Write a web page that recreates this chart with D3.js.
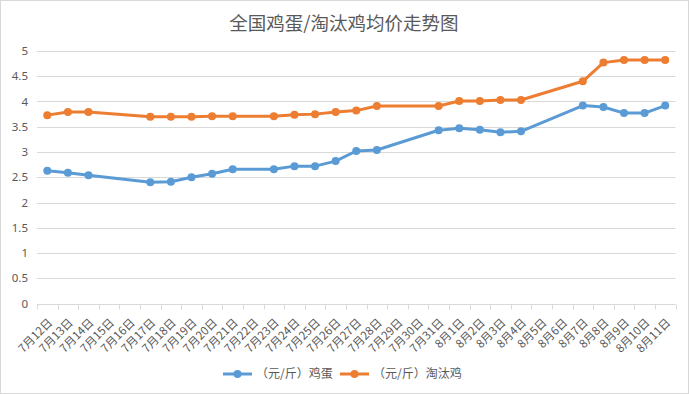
<!DOCTYPE html>
<html>
<head>
<meta charset="utf-8">
<script src="https://cdn.jsdelivr.net/npm/d3@7"></script>
<style>
  body { margin: 0; background: #fff; }
  svg { font-family: "Noto Sans CJK SC", "Noto Sans", sans-serif; }
</style>
</head>
<body>
<div id="chart"></div>
<script>
// categories: every day from 7/12 to 8/11
let dates = [
    "7月12日", "7月13日", "7月14日", "7月15日", "7月16日", "7月17日", "7月18日",
    "7月19日", "7月20日", "7月21日", "7月22日", "7月23日", "7月24日", "7月25日",
    "7月26日", "7月27日", "7月28日", "7月29日", "7月30日", "7月31日", "8月1日",
    "8月2日", "8月3日", "8月4日", "8月5日", "8月6日", "8月7日", "8月8日",
    "8月9日", "8月10日", "8月11日"
]

// days that actually have a quote
let quoteDates = [
    "7月12日", "7月13日", "7月14日", "7月17日", "7月18日", "7月19日", "7月20日",
    "7月21日", "7月23日", "7月24日", "7月25日", "7月26日", "7月27日", "7月28日",
    "7月31日", "8月1日", "8月2日", "8月3日", "8月4日", "8月7日", "8月8日",
    "8月9日", "8月10日", "8月11日"
]

let eggPrice = [
    2.63, 2.59, 2.54, 2.40, 2.41, 2.50, 2.57, 2.66, 2.66, 2.72, 2.72, 2.82,
    3.02, 3.04, 3.43, 3.47, 3.44, 3.39, 3.41, 3.92, 3.89, 3.77, 3.77, 3.92
]

let henPrice = [
    3.73, 3.79, 3.79, 3.70, 3.70, 3.70, 3.71, 3.71, 3.71, 3.74, 3.75, 3.79,
    3.82, 3.91, 3.91, 4.01, 4.01, 4.03, 4.03, 4.40, 4.77, 4.82, 4.82, 4.82
]

let yTicks = [0, 0.5, 1, 1.5, 2, 2.5, 3, 3.5, 4, 4.5, 5]

let series = [
    { name: "（元/斤）鸡蛋", values: eggPrice, color: "#5B9BD5" },
    { name: "（元/斤）淘汰鸡", values: henPrice, color: "#ED7D31" }
]

let width = 690
let height = 394
let margins = { top: 51, right: 15, bottom: 91, left: 37 }
let textColor = "#595959"
let gridColor = "#D9D9D9"

let svg = d3.select("#chart").append("svg")
    .attr("width", width)
    .attr("height", height)

// outer chart border
svg.append("rect")
    .attr("x", 0.5).attr("y", 0.5)
    .attr("width", width - 2).attr("height", height - 1)
    .attr("fill", "#fff")
    .attr("stroke", gridColor)

svg.append("text")
    .attr("x", 344)
    .attr("y", 30)
    .attr("text-anchor", "middle")
    .attr("fill", textColor)
    .style("font-size", "18.5px")
    .text("全国鸡蛋/淘汰鸡均价走势图")

let plotW = 675.5 - margins.left
let plotH = 303.5 - margins.top

let g = svg.append("g")
    .attr("transform", `translate(${margins.left}, ${margins.top})`)

let xScale = d3.scaleBand()
    .domain(dates)
    .range([0, plotW])

let yScale = d3.scaleLinear()
    .domain([0, 5])
    .range([plotH, 0])

// horizontal gridlines
g.append("g")
    .selectAll("line")
    .data(yTicks.filter(d => d > 0))
    .join("line")
    .attr("x1", 0).attr("x2", plotW)
    .attr("y1", d => Math.round(yScale(d)) + 0.5)
    .attr("y2", d => Math.round(yScale(d)) + 0.5)
    .attr("stroke", gridColor)

// y axis labels
let yAxis = g.append("g")
    .call(d3.axisLeft(yScale).tickValues(yTicks).tickSize(0).tickPadding(9).tickFormat(d3.format("")))
yAxis.select(".domain").remove()
yAxis.selectAll("text")
    .attr("fill", textColor)
    .style("font-size", "11.5px")
    .style("font-family", "\"Noto Sans\", sans-serif")

// x axis: band boundaries as ticks
let xAxis = g.append("g")
    .attr("transform", `translate(0, ${Math.round(plotH) + 0.5})`)
xAxis.append("line")
    .attr("x1", 0).attr("x2", plotW)
    .attr("stroke", gridColor)
xAxis.selectAll("line.tick")
    .data(dates.concat(["end"]))
    .join("line")
    .attr("class", "tick")
    .attr("x1", (d, i) => Math.round(i * xScale.step()) + 0.5)
    .attr("x2", (d, i) => Math.round(i * xScale.step()) + 0.5)
    .attr("y1", 0).attr("y2", 5)
    .attr("stroke", gridColor)
xAxis.selectAll("text")
    .data(dates)
    .join("text")
    .attr("transform", d => `translate(${xScale(d) + xScale.bandwidth() / 2 + 3}, 16) rotate(-45)`)
    .attr("text-anchor", "end")
    .attr("dy", "0.35em")
    .attr("fill", textColor)
    .style("font-size", "11.5px")
    .text(d => d)

let line = d3.line()
    .x(d => xScale(d.date) + xScale.bandwidth() / 2)
    .y(d => yScale(d.value))

for (let s of series) {
    let points = quoteDates.map((date, i) => ({ date: date, value: s.values[i] }))
    g.append("path")
        .datum(points)
        .attr("d", line)
        .attr("fill", "none")
        .attr("stroke", s.color)
        .attr("stroke-width", 3)
        .attr("stroke-linejoin", "round")
    g.append("g")
        .selectAll("circle")
        .data(points)
        .join("circle")
        .attr("cx", d => xScale(d.date) + xScale.bandwidth() / 2)
        .attr("cy", d => yScale(d.value))
        .attr("r", 4)
        .attr("fill", s.color)
}

// legend
let legendX = [223, 340]
let legend = svg.append("g")
    .attr("transform", "translate(0, 374)")
series.forEach((s, i) => {
    let item = legend.append("g").attr("transform", `translate(${legendX[i]}, 0)`)
    item.append("line")
        .attr("x1", 0).attr("x2", 29)
        .attr("stroke", s.color)
        .attr("stroke-width", 3)
    item.append("circle")
        .attr("cx", 14.5).attr("r", 4)
        .attr("fill", s.color)
    item.append("text")
        .attr("x", 33)
        .attr("dy", "0.35em")
        .attr("fill", textColor)
        .style("font-size", "12px")
        .text(s.name)
})
</script>
</body>
</html>
